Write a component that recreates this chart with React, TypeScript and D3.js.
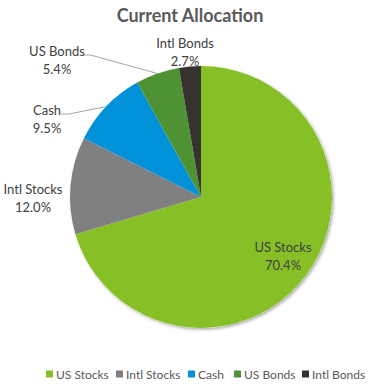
import React from "react";
import * as d3 from "d3";

const categories = ["US Stocks", "Intl Stocks", "Cash", "US Bonds", "Intl Bonds"];
const values = [70.4, 12.0, 9.5, 5.4, 2.7];
const colors = ["#86BF26", "#808080", "#0091D8", "#4E9234", "#363230"];
const title = "Current Allocation";

// label layout (centre of the first label line relative to pie centre), and whether a leader line is drawn
const labelLayout: Record<string, { dx: number; dy: number; leader: boolean }> = {
  "US Stocks": { dx: 82, dy: 50, leader: false },
  "Intl Stocks": { dx: -168, dy: -8, leader: false },
  Cash: { dx: -154, dy: -87, leader: true },
  "US Bonds": { dx: -144, dy: -146, leader: true },
  "Intl Bonds": { dx: -16, dy: -154, leader: false },
};

const W = 378;
const H = 391;
const cx = 201;
const cy = 197;
const R = 131;
const FONT = "Lato, 'Open Sans', sans-serif";

export default function App() {
  const pie = d3
    .pie<number>()
    .sort(null)
    .value((d) => d)(values);
  const arc = d3.arc<d3.PieArcDatum<number>>().innerRadius(0).outerRadius(R);

  const legendX = [46, 116, 188, 234, 302];

  return (
    <svg
      width={W}
      height={H}
      style={{ position: "absolute", left: 0, top: 0, background: "#fff" }}
    >
      <defs>
        <filter id="sh" x="-20%" y="-20%" width="140%" height="140%">
          <feDropShadow dx="1.5" dy="1.5" stdDeviation="1.8" floodColor="#000" floodOpacity="0.35" />
        </filter>
      </defs>
      <text
        x={W / 2 + 1}
        y={22}
        textAnchor="middle"
        fontFamily={FONT}
        fontWeight="bold"
        fontSize={18}
        fill="#595959"
      >
        {title}
      </text>
      <g transform={`translate(${cx},${cy})`}>
        <circle r={R} fill="#fff" filter="url(#sh)" />
        {pie.map((p, i) => (
          <path key={i} d={arc(p) || ""} fill={colors[i]} />
        ))}
        {pie.map((p, i) => {
          const name = categories[i];
          const L = labelLayout[name];
          const mid = (p.startAngle + p.endAngle) / 2;
          const ex = Math.sin(mid) * R;
          const ey = -Math.cos(mid) * R;
          const tw = name.length * 5.6;
          const sx = L.dx + tw / 2 + 3;
          const sy = L.dy + 4;
          return (
            <g key={name}>
              {L.leader && (
                <polyline
                  points={`${sx},${sy} ${sx + 8},${sy} ${ex},${ey}`}
                  fill="none"
                  stroke="#A6A6A6"
                  strokeWidth={1}
                />
              )}
              <text
                x={L.dx}
                y={L.dy}
                textAnchor="middle"
                fontFamily={FONT}
                fontSize={13}
                fill="#404040"
              >
                <tspan x={L.dx} dy="0.36em">{name}</tspan>
                <tspan x={L.dx} dy="1.38em">{values[i].toFixed(1)}%</tspan>
              </text>
            </g>
          );
        })}
      </g>
      <g>
        {categories.map((c, i) => (
          <g key={c} transform={`translate(${legendX[i]},374)`}>
            <rect x={0} y={-3.5} width={7} height={7} fill={colors[i]} />
            <text x={10} y={4.5} fontFamily={FONT} fontSize={12} fill="#595959">
              {c}
            </text>
          </g>
        ))}
      </g>
    </svg>
  );
}
